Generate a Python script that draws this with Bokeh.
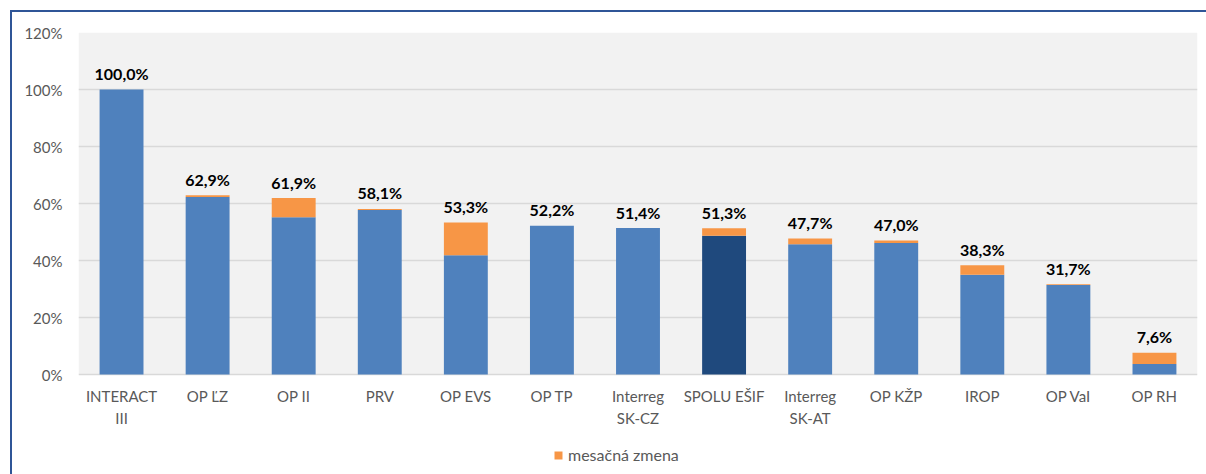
from bokeh.plotting import figure
from bokeh.models import (ColumnDataSource, Legend, LegendItem, FixedTicker,
                          BoxAnnotation)
from bokeh.core.properties import value
from bokeh.embed import file_html
from bokeh.resources import INLINE

categories = ["INTERACT\nIII", "OP ĽZ", "OP II", "PRV", "OP EVS", "OP TP",
              "Interreg\nSK-CZ", "SPOLU EŠIF", "Interreg\nSK-AT", "OP KŽP",
              "IROP", "OP VaI", "OP RH"]
totals = [100.0, 62.9, 61.9, 58.1, 53.3, 52.2, 51.4, 51.3, 47.7, 47.0, 38.3, 31.7, 7.6]
monthly_change = [0.0, 0.6, 6.7, 0.4, 11.5, 0.0, 0.0, 2.6, 2.0, 0.9, 3.3, 0.3, 3.9]
y_ticks = [0, 20, 40, 60, 80, 100, 120]
legend_label = "mesačná zmena"

FONT = "Lato"
BLUE = "#4F81BD"
DARK = "#1F497D"
ORANGE = "#F79646"
FRAME = "#2F5597"

# layout (pixels): plot area 32..374 for 0..120 %, canvas extends to 474
W, H = 1206, 474
TOP, ZERO = 32, 374
y_max = y_ticks[-1]
y_min = -y_max * (H - ZERO) / (ZERO - TOP)

base = [round(t - c, 1) for t, c in zip(totals, monthly_change)]
colors = [DARK if c == "SPOLU EŠIF" else BLUE for c in categories]
labels = [f"{t:.1f}".replace(".", ",") + "%" for t in totals]

src = ColumnDataSource(dict(cat=categories, base=base, total=totals,
                            color=colors, label=labels,
                            zero=[0] * len(categories)))

p = figure(x_range=categories, y_range=(y_min, y_max), width=W, height=H,
           output_backend="svg", toolbar_location=None,
           min_border_left=78, min_border_right=9, min_border_top=TOP,
           min_border_bottom=0)
grad = f"linear-gradient({FRAME},{FRAME})"
p.styles = {"background": f"{grad} 10px 10px / 100% 2px no-repeat, "
                          f"{grad} 10px 10px / 2px 100% no-repeat, white"}

p.background_fill_alpha = 0
p.border_fill_alpha = 0
p.outline_line_color = None

# grey plot area between 0 % and 120 %
p.add_layout(BoxAnnotation(bottom=0, top=y_max, fill_color="#F2F2F2",
                           fill_alpha=1, line_color=None, level="image"))

r_base = p.vbar(x="cat", top="base", bottom=0, width=0.51, source=src,
                fill_color="color", line_color=None)
r_chg = p.vbar(x="cat", top="total", bottom="base", width=0.51, source=src,
               fill_color=ORANGE, line_color=None)

# data labels
p.text(x="cat", y="total", text="label", source=src, text_align="center",
       text_baseline="middle", y_offset=-16, text_font=value(FONT),
       text_font_size="16px", text_font_style="bold", text_color="#000000")

# category labels under the 0 % line
p.text(x="cat", y="zero", text="cat", source=src, text_align="center",
       text_baseline="top", y_offset=12, text_font=value(FONT),
       text_font_size="15px", text_line_height=1.25, text_color="#595959")

# axes
p.xaxis.visible = False
p.xgrid.grid_line_color = None
p.ygrid.grid_line_color = "#D9D9D9"
p.ygrid.grid_line_width = 1.5
p.ygrid.ticker = FixedTicker(ticks=y_ticks)
p.yaxis.ticker = FixedTicker(ticks=y_ticks)
p.yaxis.major_label_overrides = {t: f"{t}%" for t in y_ticks}
ax = p.yaxis[0]
ax.axis_line_color = None
ax.major_tick_line_color = None
ax.minor_tick_line_color = None
ax.major_tick_out = 0
ax.major_tick_in = 0
ax.minor_tick_out = 0
ax.major_label_text_font = FONT
ax.major_label_text_color = "#595959"
ax.major_label_text_font_size = "15px"
ax.major_label_standoff = 16
p.x_range.range_padding = 0

legend = Legend(items=[LegendItem(label=legend_label, renderers=[r_chg])],
                location=(475, 10), orientation="horizontal",
                glyph_width=10, glyph_height=10, label_height=10,
                label_standoff=5, padding=0, margin=0,
                border_line_color=None, background_fill_alpha=0,
                label_text_font=FONT, label_text_font_size="16px",
                label_text_color="#595959")
p.add_layout(legend)

open("out.html", "w").write(file_html(p, INLINE))
